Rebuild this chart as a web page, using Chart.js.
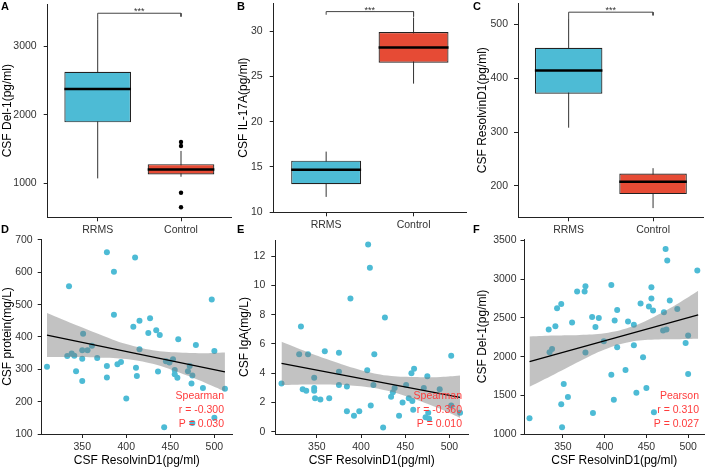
<!DOCTYPE html>
<html>
<head>
<meta charset="utf-8">
<script src="https://cdn.jsdelivr.net/npm/chart.js@4.4.1/dist/chart.umd.min.js"></script>
<style>
  body { margin: 0; background: #fff; }
  #fig { position: relative; width: 708px; height: 468px; }
  .panel { position: absolute; width: 236px; height: 234px; }
  .tag { position: absolute; font: bold 11px "Liberation Sans", Arial, sans-serif; line-height: 12px; color: #000; }
</style>
</head>
<body>
<div id="fig">
  <div class="panel" style="left:0;top:0"><canvas id="chartA" width="236" height="234"></canvas></div>
  <div class="panel" style="left:236px;top:0"><canvas id="chartB" width="236" height="234"></canvas></div>
  <div class="panel" style="left:472px;top:0"><canvas id="chartC" width="236" height="234"></canvas></div>
  <div class="panel" style="left:0;top:234px"><canvas id="chartD" width="236" height="234"></canvas></div>
  <div class="panel" style="left:236px;top:234px"><canvas id="chartE" width="236" height="234"></canvas></div>
  <div class="panel" style="left:472px;top:234px"><canvas id="chartF" width="236" height="234"></canvas></div>
  <div class="tag" style="left:1px;top:0">A</div>
  <div class="tag" style="left:237px;top:0">B</div>
  <div class="tag" style="left:473px;top:0">C</div>
  <div class="tag" style="left:1px;top:223px">D</div>
  <div class="tag" style="left:237px;top:223px">E</div>
  <div class="tag" style="left:473px;top:223px">F</div>
</div>
<script>
const family = "'Liberation Sans', Arial, sans-serif";

const groups = ["RRMS", "Control"];
const boxColors = ["#4DBBD5", "#E64B35"];

// box stats: [low whisker, q1, median, q3, high whisker]
const del1Rrms = [1073, 1892, 2378, 2629, 3398];
const del1Control = [1097, 1131, 1203, 1281, 1474];
const del1Outliers = [1605, 1547, 863, 651];
const del1Ticks = [1000, 2000, 3000];
const del1Bracket = [3400, 3485, 3436];

const il17Rrms = [11.7, 13.1, 14.7, 15.7, 16.7];
const il17Control = [24.2, 26.5, 28.2, 29.9, 31.5];
const il17Ticks = [10, 15, 20, 25, 30];
const il17Bracket = [31.8, 32.15, 31.6];

const rvRrms = [308, 371, 414, 456, 511];
const rvControl = [159, 185, 208, 223, 233];
const rvTicks = [200, 300, 400, 500];
const rvBracket = [511, 522, 516];

// correlations against CSF ResolvinD1
const rvAxisTicks = [350, 400, 450, 500];
const bandX = [310, 340, 370, 400, 430, 460, 490, 512];
const fitX = [310, 512];

const protX = [310, 335, 333, 338, 341, 343, 350, 351, 350, 350, 356, 361, 367, 378, 378, 378, 386, 386, 390, 394, 400, 408, 410, 411, 412, 415, 415, 425, 427, 434, 438, 436, 443, 445, 449, 453, 455, 455, 458, 459, 470, 472, 475, 474, 475, 479, 487, 497, 500, 500, 512];
const protY = [308, 557, 341, 349, 342, 294, 359, 410, 333, 264, 359, 373, 335, 662, 310, 275, 469, 602, 316, 323, 210, 432, 646, 305, 279, 450, 362, 412, 458, 421, 406, 293, 121, 325, 321, 331, 298, 285, 274, 393, 294, 310, 281, 256, 134, 375, 242, 516, 150, 357, 240];
const protFit = [406, 292];
const protUpper = [474, 440, 408, 378, 359, 352, 350, 352];
const protLower = [338, 338, 336, 332, 317, 290, 258, 232];
const protTicks = [100, 200, 300, 400, 500, 600, 700];
const protStats = ["Spearman", "r = -0.300", "P = 0.030"];

const igaX = [310, 332, 330, 340, 334, 338, 347, 347, 347, 348, 354, 359, 364, 375, 375, 375, 384, 384, 388, 392, 398, 408, 407, 410, 411, 414, 415, 425, 427, 434, 436, 438, 443, 447, 451, 454, 457, 458, 459, 460, 471, 473, 475, 476, 477, 489, 502, 502, 512];
const igaY = [3.3, 7.2, 5.3, 5.3, 2.9, 2.8, 3.7, 3.0, 2.8, 2.3, 2.2, 5.5, 2.3, 5.4, 4.1, 3.2, 1.4, 3.1, 9.1, 1.1, 1.4, 12.8, 4.2, 11.2, 1.8, 3.2, 5.3, 0.3, 7.8, 2.4, 2.7, 3.0, 1.1, 2.0, 3.2, 2.3, 4.0, 2.1, 1.5, 4.3, 3.0, 1.0, 3.8, 1.3, 0.9, 2.9, 5.2, 1.8, 1.3];
const igaFit = [4.67, 2.35];
const igaUpper = [6.15, 5.43, 4.78, 4.21, 3.84, 3.74, 3.75, 3.85];
const igaLower = [3.19, 3.23, 3.22, 3.11, 2.80, 2.24, 1.55, 0.95];
const igaTicks = [0, 2, 4, 6, 8, 10, 12];
const igaStats = ["Spearman", "r = -0.360", "P = 0.010"];

const delX = [310, 333, 334, 337, 341, 343, 348, 348, 349, 351, 356, 361, 367, 376, 377, 377, 385, 386, 389, 393, 399, 408, 408, 411, 412, 415, 415, 425, 428, 435, 435, 438, 443, 446, 450, 453, 456, 456, 458, 459, 471, 470, 474, 473, 475, 478, 487, 497, 500, 500, 511];
const delY = [1203, 2349, 2056, 2099, 2392, 2625, 2681, 1384, 1086, 1647, 1478, 2440, 2840, 2840, 2909, 2052, 2513, 1272, 2384, 2500, 2198, 2927, 1767, 1444, 2466, 2603, 2121, 1828, 2453, 2413, 2147, 1534, 2685, 1991, 1595, 2647, 2897, 2750, 2595, 1280, 2573, 2336, 2349, 3392, 3241, 2724, 2616, 2177, 2272, 1776, 3112];
const delFit = [1935, 2540];
const delUpper = [2260, 2272, 2279, 2301, 2378, 2520, 2700, 2850];
const delLower = [1610, 1772, 1939, 2091, 2188, 2220, 2225, 2230];
const delTicks = [1000, 1500, 2000, 2500, 3000, 3500];
const delStats = ["Pearson", "r = 0.310", "P = 0.027"];

Chart.defaults.font.family = family;
Chart.defaults.animation = false;
Chart.defaults.plugins.legend.display = false;
Chart.defaults.plugins.tooltip.enabled = false;

function leftAxis(min, max, ticks, title, width, pad, titlePad) {
  return {
    type: "linear", min, max, beginAtZero: false,
    afterBuildTicks: s => { s.ticks = ticks.map(v => ({ value: v })); },
    afterFit: s => { s.width = width; s.paddingTop = 0; s.paddingBottom = 0; },
    grid: { drawOnChartArea: false, tickLength: 4, color: "#222" },
    border: { color: "#222", width: 1 },
    ticks: { color: "#333", font: { size: 10.5 }, padding: pad, callback: v => String(v) },
    title: { display: true, text: title, color: "#000", font: { size: 12 }, padding: { top: titlePad, bottom: 0 } }
  };
}

function bottomAxis(min, max, ticks, label, height, title) {
  return {
    type: "linear", min, max, offset: false,
    afterBuildTicks: s => { s.ticks = ticks.map(v => ({ value: v })); },
    afterFit: s => { s.height = height; s.paddingLeft = 0; s.paddingRight = 0; },
    grid: { drawOnChartArea: false, tickLength: 4, color: "#222", offset: false },
    border: { color: "#222", width: 1 },
    ticks: { color: "#333", font: { size: 10.5 }, padding: 3, maxRotation: 0, autoSkip: false, callback: label },
    title: { display: !!title, text: title || "", color: "#000", font: { size: 12 }, padding: { top: 0, bottom: 0 } }
  };
}

const starsPlugin = {
  id: "stars",
  afterDatasetsDraw(chart) {
    const b = chart.options.plugins.stars;
    if (!b) return;
    const { ctx, scales: { x, y } } = chart;
    ctx.save();
    ctx.fillStyle = "#333";
    ctx.font = "9px " + family;
    ctx.textAlign = "center";
    ctx.textBaseline = "alphabetic";
    ctx.fillText("***", x.getPixelForValue(1.5), y.getPixelForValue(b) + 1);
    ctx.restore();
  }
};

const statsPlugin = {
  id: "stats",
  afterDatasetsDraw(chart) {
    const o = chart.options.plugins.stats;
    if (!o) return;
    const { ctx, chartArea } = chart;
    ctx.save();
    ctx.fillStyle = "#ff3b3b";
    ctx.font = "10.5px " + family;
    ctx.textAlign = "right";
    ctx.textBaseline = "middle";
    o.lines.forEach((t, i) => {
      ctx.fillText(t, chartArea.right - o.right, chartArea.bottom - 38 + i * 14);
    });
    ctx.restore();
  }
};

function boxChart(id, stats, outliers, bracket, yMin, yMax, yTicks, yTitle, lay) {
  const xs = [1, 2];
  const datasets = [];
  stats.forEach((s, i) => {
    datasets.push({
      type: "line", data: [{ x: xs[i], y: s[0] }, { x: xs[i], y: s[4] }],
      borderColor: "#333", borderWidth: 1, pointRadius: 0, order: 5
    });
  });
  datasets.push({
    type: "bar", data: stats.map((s, i) => ({ x: xs[i], y: [s[1], s[3]] })),
    backgroundColor: boxColors, borderColor: "#222", borderWidth: 1.2, borderSkipped: false,
    barPercentage: 0.8, categoryPercentage: 1, order: 4
  });
  datasets.push({
    type: "scatter", data: stats.map((s, i) => ({ x: xs[i], y: s[2] })),
    pointStyle: "line",
    pointRadius: c => c.chart.scales.x.getPixelForValue(1.4) - c.chart.scales.x.getPixelForValue(1),
    pointBorderColor: "#000", pointBorderWidth: 2.5, order: 3
  });
  if (outliers.length) {
    datasets.push({
      type: "scatter", data: outliers.map(v => ({ x: 2, y: v })),
      pointRadius: 2.2, pointBackgroundColor: "#000", pointBorderWidth: 0, order: 2
    });
  }
  datasets.push({
    type: "line",
    data: [{ x: 1, y: bracket[0] }, { x: 1, y: bracket[1] }, { x: 2, y: bracket[1] }, { x: 2, y: bracket[2] }],
    borderColor: "#444", borderWidth: 1, pointRadius: 0, order: 1, clip: false
  });
  new Chart(document.getElementById(id), {
    type: "bar",
    data: { datasets },
    options: {
      responsive: false,
      layout: { padding: { top: lay.top, right: lay.right, left: 0, bottom: 0 } },
      scales: {
        x: bottomAxis(0.4, 2.6, [1, 2], v => groups[v - 1], lay.xh),
        y: leftAxis(yMin, yMax, yTicks, yTitle, lay.yw, lay.pad, lay.tp)
      },
      plugins: { stars: bracket[1] }
    },
    plugins: [starsPlugin]
  });
}

function corrChart(id, xs, ys, fit, upper, lower, xMin, xMax, yMin, yMax, yTicks, yTitle, statLines, lay) {
  new Chart(document.getElementById(id), {
    type: "scatter",
    data: {
      datasets: [
        {
          data: xs.map((x, i) => ({ x, y: ys[i] })),
          pointRadius: 3, pointBackgroundColor: "#4DBBD5", pointBorderWidth: 0, order: 3
        },
        {
          type: "line", data: bandX.map((x, i) => ({ x, y: lower[i] })),
          borderColor: "transparent", pointRadius: 0, tension: 0.4, fill: false, order: 2
        },
        {
          type: "line", data: bandX.map((x, i) => ({ x, y: upper[i] })),
          borderColor: "transparent", pointRadius: 0, tension: 0.4,
          fill: "-1", backgroundColor: "rgba(120,120,120,0.45)", order: 2
        },
        {
          type: "line", data: fitX.map((x, i) => ({ x, y: fit[i] })),
          borderColor: "#000", borderWidth: 1.2, pointRadius: 0, order: 1
        }
      ]
    },
    options: {
      responsive: false,
      layout: { padding: { top: lay.top, right: lay.right, left: 0, bottom: 0 } },
      scales: {
        x: bottomAxis(xMin, xMax, rvAxisTicks, v => String(v), 34, "CSF ResolvinD1(pg/ml)"),
        y: leftAxis(yMin, yMax, yTicks, yTitle, lay.yw, lay.pad, lay.tp)
      },
      plugins: { stats: { lines: statLines, right: lay.sr } }
    },
    plugins: [statsPlugin]
  });
}

boxChart("chartA", [del1Rrms, del1Control], del1Outliers, del1Bracket, 505, 3620, del1Ticks,
  "CSF Del-1(pg/ml)", { top: 3, right: 5, xh: 16.7, yw: 47.7, pad: 7, tp: 0 });
boxChart("chartB", [il17Rrms, il17Control], [], il17Bracket, 10, 33.1, il17Ticks,
  "CSF IL-17A(pg/ml)", { top: 3, right: 6, xh: 21.7, yw: 37.7, pad: 7, tp: 0 });
boxChart("chartC", [rvRrms, rvControl], [], rvBracket, 142, 539, rvTicks,
  "CSF ResolvinD1(pg/ml)", { top: 3, right: 4.3, xh: 16.7, yw: 46, pad: 6, tp: 3 });

corrChart("chartD", protX, protY, protFit, protUpper, protLower, 304, 520, 100, 703, protTicks,
  "CSF protein(mg/L)", protStats, { top: 5, right: 4, yw: 41.7, pad: 5, tp: 0, sr: 8 });
corrChart("chartE", igaX, igaY, igaFit, igaUpper, igaLower, 303, 521, -0.15, 13.1, igaTicks,
  "CSF IgA(mg/L)", igaStats, { top: 6, right: 4, yw: 39.3, pad: 6, tp: 1, sr: 6 });
corrChart("chartF", delX, delY, delFit, delUpper, delLower, 304, 519, 1000, 3520, delTicks,
  "CSF Del-1(pg/ml)", delStats, { top: 5, right: 2, yw: 52.5, pad: 4, tp: 3, sr: 5 });
</script>
</body>
</html>
